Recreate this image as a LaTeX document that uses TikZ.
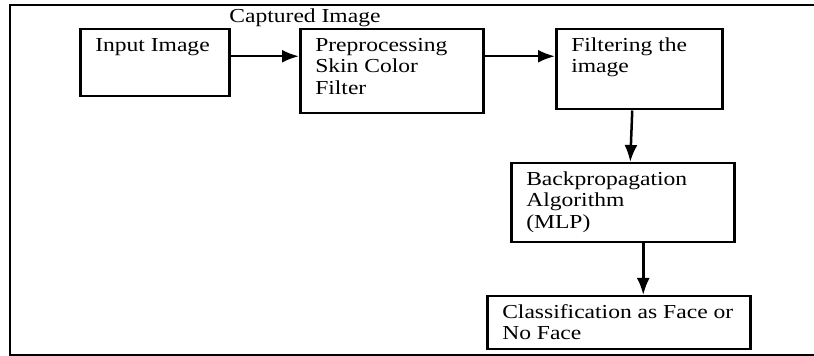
\documentclass[tikz,border=0pt]{standalone}
\usepackage{fontspec}
\setmainfont{Liberation Serif}[FakeStretch=1.19]
\usepackage{tikz}
\usetikzlibrary{arrows.meta}
\tikzstyle{flow}=[x=0.5pt, y=-0.5pt, font=\fontsize{9.9}{10.75}\selectfont]
\tikzstyle{blk}=[rectangle, draw, line width=1.25pt, inner xsep=7.5pt, inner ysep=0pt, anchor=north west, fill=white]
\tikzstyle{g}=[inner sep=0pt]
\tikzstyle{edge}=[-{Latex[length=8.5pt,width=6.5pt]}, line width=1.25pt]
\tikzstyle{frame}=[line width=1.3pt]
\newcommand{\blocktext}[3]{\parbox[t][#2][t]{#1}{\raggedright\rule{0pt}{11pt}#3}}

\begin{document}
\begin{tikzpicture}[flow]
	\useasboundingbox (0,0) rectangle (814,356);
	%The frame, open at the right
	\draw[frame] (814,5) -- (10,5) -- (10,355) -- (814,355);

	%The top row
	\draw (79,28) node[blk] (in) {\blocktext{59.5pt}{33.5pt}{Input Image}};
	\draw (299,28) node[blk] (pre) {\blocktext{76.5pt}{42pt}{Preprocessing\\Skin Color\\Filter}};
	\draw (555,28) node[blk] (filt) {\blocktext{68pt}{40pt}{Filtering the\\image}};
	\draw (229,23) node[g, anchor=base west] (cap) {Captured Image};

	%The lower blocks
	\draw (510,162) node[blk] (bp) {\blocktext{96.5pt}{39.5pt}{Backpropagation\\Algorithm\\(MLP)}};
	\draw (486,295) node[blk] (cls) {\blocktext{116.5pt}{26.5pt}{Classification as Face or\\No Face}};

	\draw[edge] ([yshift=3.25pt]in.east) -- ([yshift=3.25pt]in.east -| pre.west);
	\draw[edge] ([yshift=7.5pt]pre.east) -- ([yshift=7.5pt]pre.east -| filt.west);
	\draw[edge] ([xshift=-3.5pt]filt.south) -- ([xshift=3.75pt]bp.north);
	\draw[edge] ([xshift=10.25pt]bp.south) -- ([xshift=10.25pt]bp.south |- cls.north);
\end{tikzpicture}
\end{document}
